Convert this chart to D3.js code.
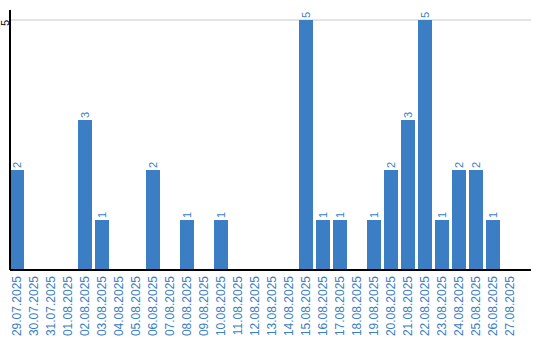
<!DOCTYPE html>
<html lang="en">
<head>
  <meta charset="UTF-8">
  <title>Daily counts</title>
  <script src="https://d3js.org/d3.v7.min.js"></script>
  <style>
    body { margin: 0; background: #fff; }
    svg { display: block; font-family: "Liberation Sans", Arial, sans-serif; }
  </style>
</head>
<body>
  <svg id="chart"></svg>

  <script>
    // dates and counts
    const days = [
      "29.07.2025", "30.07.2025", "31.07.2025", "01.08.2025", "02.08.2025",
      "03.08.2025", "04.08.2025", "05.08.2025", "06.08.2025", "07.08.2025",
      "08.08.2025", "09.08.2025", "10.08.2025", "11.08.2025", "12.08.2025",
      "13.08.2025", "14.08.2025", "15.08.2025", "16.08.2025", "17.08.2025",
      "18.08.2025", "19.08.2025", "20.08.2025", "21.08.2025", "22.08.2025",
      "23.08.2025", "24.08.2025", "25.08.2025", "26.08.2025", "27.08.2025"
    ];
    const counts = [2, 0, 0, 0, 3, 1, 0, 0, 2, 0, 1, 0, 1, 0, 0, 0, 0, 5, 1, 1, 0, 1, 2, 3, 5, 1, 2, 2, 1, 0];
    const yTicks = [5];

    const width = 540, height = 340;
    const padLeft = 10, padRight = 531, padTop = 20, baseY = 270;
    const step = 17, gap = 3;
    const blue = "#3b7ec3";

    const svg = d3.select("#chart")
      .attr("width", width)
      .attr("height", height);

    const x = d3.scaleBand()
      .domain(days)
      .range([padLeft, padLeft + step * days.length - gap])
      .paddingInner(gap / step)
      .paddingOuter(0);

    const y = d3.scaleLinear()
      .domain([0, 5])
      .range([baseY, padTop]);

    // grid line
    svg.append("g")
      .selectAll("line")
      .data(yTicks)
      .enter().append("line")
      .attr("x1", padLeft).attr("x2", padRight)
      .attr("y1", d => y(d)).attr("y2", d => y(d))
      .style("stroke", "#c8c8c8")
      .style("stroke-width", 1);

    // bars
    const data = days.map((d, i) => ({ day: d, value: counts[i] }));
    svg.append("g")
      .selectAll("rect")
      .data(data.filter(d => d.value > 0))
      .enter().append("rect")
      .attr("x", d => x(d.day))
      .attr("y", d => y(d.value))
      .attr("width", x.bandwidth())
      .attr("height", d => baseY - y(d.value))
      .style("fill", blue);

    // value labels above the bars
    svg.append("g")
      .selectAll("text")
      .data(data.filter(d => d.value > 0))
      .enter().append("text")
      .attr("transform", d => `translate(${x(d.day) + x.bandwidth() / 2 + 4},${y(d.value) - 2}) rotate(-90)`)
      .text(d => d.value)
      .style("font-size", "11px")
      .style("fill", blue);

    // axis lines
    svg.append("line")
      .attr("x1", padLeft).attr("x2", padLeft)
      .attr("y1", 10).attr("y2", baseY)
      .style("stroke", "#000").style("stroke-width", 2);
    svg.append("line")
      .attr("x1", padLeft).attr("x2", padRight)
      .attr("y1", baseY).attr("y2", baseY)
      .style("stroke", "#000").style("stroke-width", 2);

    // y tick labels
    svg.append("g")
      .selectAll("text")
      .data(yTicks)
      .enter().append("text")
      .attr("transform", d => `translate(8.5,${y(d) + 3}) rotate(-90)`)
      .attr("text-anchor", "middle")
      .text(d => d)
      .style("font-size", "11px")
      .style("fill", "#000");

    // x labels
    svg.append("g")
      .selectAll("text")
      .data(days)
      .enter().append("text")
      .attr("transform", d => `translate(${x(d) + x.bandwidth() / 2 + 4},${baseY + 6}) rotate(-90)`)
      .attr("text-anchor", "end")
      .text(d => d)
      .style("font-size", "12px")
      .style("fill", blue);
  </script>
</body>
</html>
